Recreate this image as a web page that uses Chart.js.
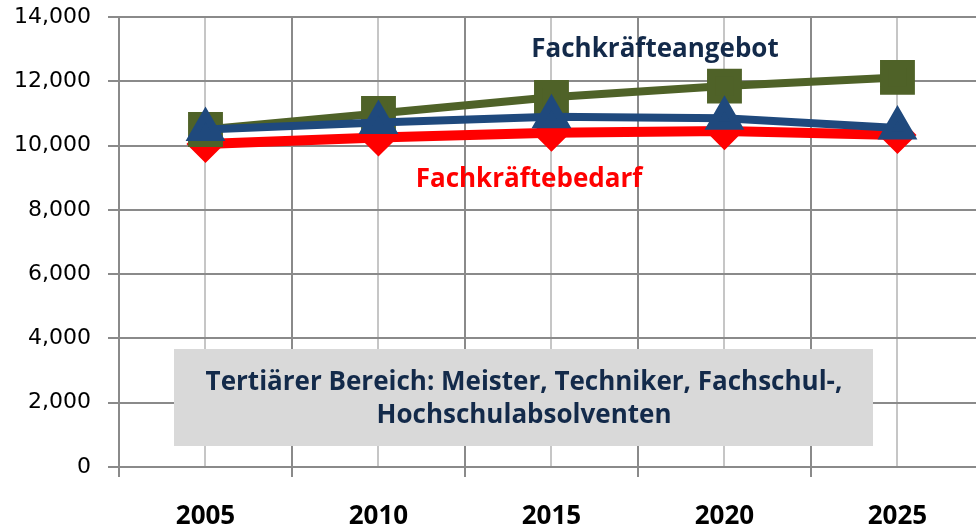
<!DOCTYPE html>
<html>
<head>
<meta charset="utf-8">
<script src="https://cdn.jsdelivr.net/npm/chart.js@4/dist/chart.umd.min.js"></script>
<style>
  html, body { margin: 0; padding: 0; background: #fff; overflow: hidden; }
  #wrap { width: 976px; height: 528px; position: relative; }
</style>
</head>
<body>
<div id="wrap"><canvas id="grafico"></canvas></div>
<script>
const jahre = [2005, 2010, 2015, 2020, 2025];
const angebot = [10500, 11000, 11500, 11850, 12120];
const angebotMitte = [10500, 10720, 10900, 10850, 10550];
const bedarf = [10050, 10250, 10400, 10450, 10330];
const yTicks = [0, 2000, 4000, 6000, 8000, 10000, 12000, 14000];

const dunkel = "#8a8a8a";
const hell = "#c6c6c6";
const navy = "#132A4A";

const punkte = arr => arr.map((v, i) => ({ x: jahre[i], y: v }));

const beschriftung = {
    id: "beschriftung",
    afterDraw(chart) {
        const c = chart.ctx;
        c.save();
        c.textAlign = "center";
        c.textBaseline = "middle";
        c.font = "bold 26px 'Open Sans'";
        c.fillStyle = navy;
        c.fillText("Fachkräfteangebot", 655, 50);
        c.fillStyle = "#FF0000";
        c.fillText("Fachkräftebedarf", 529, 180);

        c.fillStyle = "#D9D9D9";
        c.fillRect(174, 349, 699, 97);
        c.fillStyle = navy;
        c.fillText("Tertiärer Bereich: Meister, Techniker, Fachschul-,", 524, 383);
        c.fillText("Hochschulabsolventen", 524, 416);
        c.restore();
    }
};

const ctx = document.getElementById("grafico").getContext("2d");
new Chart(ctx, {
    type: "line",
    data: {
        datasets: [
            {
                label: "Fachkräfteangebot",
                data: punkte(angebotMitte),
                borderColor: "#1F497D",
                backgroundColor: "#1F497D",
                borderWidth: 8,
                pointStyle: "triangle",
                pointRadius: 15,
                pointHoverRadius: 15,
                order: 1
            },
            {
                label: "Angebot (gesamt)",
                data: punkte(angebot),
                borderColor: "#4F6228",
                backgroundColor: "#4F6228",
                borderWidth: 8,
                pointStyle: "rect",
                pointRadius: 19,
                pointHoverRadius: 19,
                order: 2
            },
            {
                label: "Fachkräftebedarf",
                data: punkte(bedarf),
                borderColor: "#FF0000",
                backgroundColor: "#FF0000",
                borderWidth: 10,
                pointStyle: "rectRot",
                pointRadius: 12,
                pointHoverRadius: 12,
                order: 3
            }
        ]
    },
    options: {
        responsive: true,
        maintainAspectRatio: false,
        animation: false,
        layout: { autoPadding: false, padding: { top: 17, right: 0, left: 0, bottom: 0 } },
        plugins: { legend: { display: false }, tooltip: { enabled: false } },
        scales: {
            x: {
                type: "linear",
                min: 2002.5,
                max: 2027.27,
                afterBuildTicks: s => {
                    s.ticks = [];
                    for (let v = 2002.5; v <= 2027.27; v += 2.5) s.ticks.push({ value: v });
                },
                afterFit: s => { s.height = 61; s.paddingLeft = 0; s.paddingRight = 0; },
                grid: {
                    color: c => (c.tick && c.tick.value % 5 === 0) ? hell : dunkel,
                    tickColor: c => (c.tick && c.tick.value % 5 === 0) ? "rgba(0,0,0,0)" : dunkel,
                    lineWidth: 2,
                    tickLength: 10
                },
                border: { color: dunkel, width: 2 },
                ticks: {
                    autoSkip: false,
                    maxRotation: 0,
                    padding: 24,
                    color: "#000",
                    font: { family: "Open Sans", weight: "bold", size: 26 },
                    callback: v => (v % 5 === 0 ? String(v) : "")
                }
            },
            y: {
                min: 0,
                max: 14000,
                afterBuildTicks: s => { s.ticks = yTicks.map(v => ({ value: v })); },
                afterFit: s => { s.width = 119; s.paddingTop = 0; s.paddingBottom = 0; },
                grid: { color: dunkel, lineWidth: 2, tickLength: 11 },
                border: { color: dunkel, width: 2 },
                ticks: {
                    padding: 17,
                    color: "#000",
                    font: { family: "DejaVu Sans", size: 22 },
                    callback: v => v.toLocaleString("en-US")
                }
            }
        }
    },
    plugins: [beschriftung]
});
</script>
</body>
</html>
